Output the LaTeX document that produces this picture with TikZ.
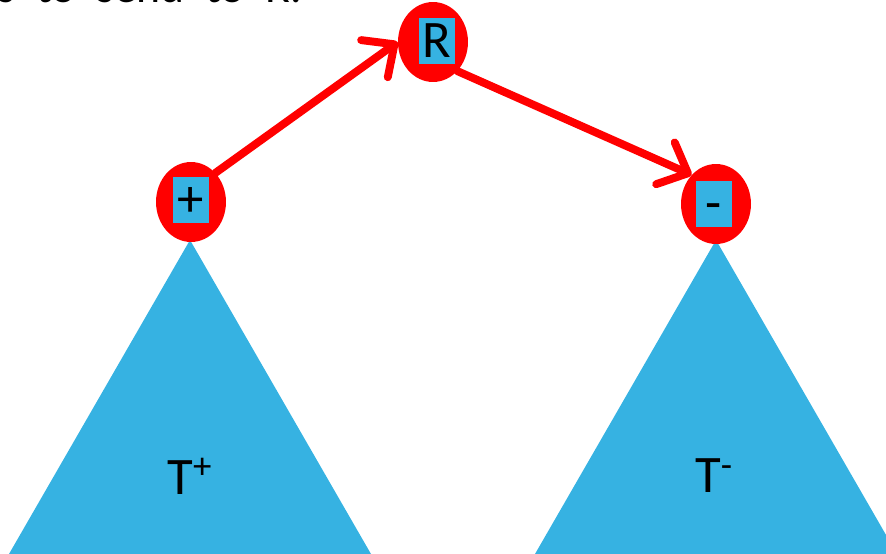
\documentclass[tikz,border=0pt]{standalone}
\usepackage{fontspec}
\setmainfont{Carlito}
\usetikzlibrary{arrows.meta, shapes.geometric}
\definecolor{treeblue}{RGB}{54,178,226}
\newcommand{\captionfont}{\fontsize{26}{26}\selectfont\spaceskip=12pt\relax}

\begin{document}
\begin{tikzpicture}[x=0.02cm, y=-0.02cm,
    vertex/.style={
        ellipse,
        fill=red,
        minimum width=1.4cm,
        minimum height=1.6cm,
        inner sep=0pt
      },
    tag/.style={
        fill=treeblue,
        minimum width=0.72cm,
        minimum height=0.92cm,
        inner sep=0pt,
        text height=19pt,
        text depth=0pt,
        font=\fontsize{30}{30}\selectfont
      },
    subtree/.style={fill=treeblue},
    treelabel/.style={font=\fontsize{30}{30}\selectfont},
    link/.style={-{Straight Barb[length=14pt, width=26pt, round]}, red, line width=4.5pt, line cap=round}
  ]
  \useasboundingbox (0,0) rectangle (886,554);

  \node[anchor=base west, inner sep=0pt, font=\captionfont] (caption) at (-3,3) {s to send to R.};

  % subtrees below the two children
  \coordinate (posapex) at (190,240);
  \coordinate (negapex) at (716,240);
  \fill[subtree] (posapex) -- ++(-181,314) -- ++(362,0) -- cycle;
  \fill[subtree] (negapex) -- ++(-181,314) -- ++(362,0) -- cycle;
  \node[treelabel] (poslbl) at (190,476) {T\textsuperscript{+}};
  \node[treelabel] (neglbl) at (714,476) {T\textsuperscript{-}};

  \node[vertex] (root) at (433,42) {};
  \node[vertex] (pos) at (191,202) {};
  \node[vertex] (neg) at (716,204) {};
  \node[tag] (roottag) at (437,41) {R};
  \node[tag] (postag) at (191,200) {+};
  \node[tag] (negtag) at (714,204) {-};

  \draw[link] (pos.50) -- (root.west);
  \draw[link] (root.-50) -- (neg.130);
\end{tikzpicture}
\end{document}
